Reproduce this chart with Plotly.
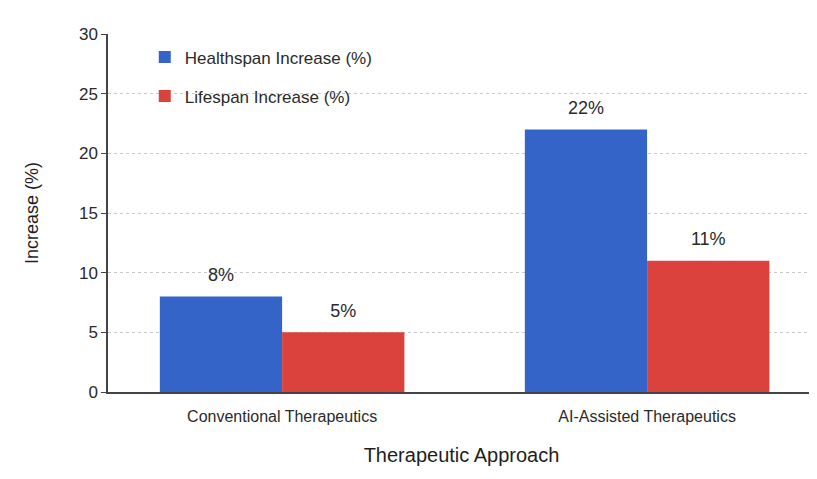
import plotly.graph_objects as go

categories = ["Conventional Therapeutics", "AI-Assisted Therapeutics"]
healthspan = [8, 22]
lifespan = [5, 11]
healthspan_labels = ["8%", "22%"]
lifespan_labels = ["5%", "11%"]

FONT = "Liberation Sans, Arial, Helvetica, sans-serif"
TXT = "#2a2a2a"
LABEL_TMPL = "<span style='font-size:18px'>%{text}</span><br> "

fig = go.Figure()
fig.add_trace(go.Bar(
    x=categories, y=healthspan, name="Healthspan Increase (%)",
    legendgroup="h",
    marker=dict(color="#3464c7", line=dict(width=0)),
    text=healthspan_labels, texttemplate=LABEL_TMPL,
    textposition="outside", cliponaxis=False,
    textfont=dict(family=FONT, size=8, color=TXT),
))
fig.add_trace(go.Bar(
    x=categories, y=lifespan, name="Lifespan Increase (%)",
    legendgroup="l",
    marker=dict(color="#db423e", line=dict(width=0)),
    text=lifespan_labels, texttemplate=LABEL_TMPL,
    textposition="outside", cliponaxis=False,
    textfont=dict(family=FONT, size=8, color=TXT),
))

fig.update_layout(
    width=809, height=471,
    margin=dict(l=100, r=2, t=26, b=87),
    paper_bgcolor="white", plot_bgcolor="white",
    barmode="group", bargap=0.33, bargroupgap=0,
    uniformtext=dict(mode=False),
    font=dict(family=FONT, size=15, color=TXT),
    showlegend=True,
    legend=dict(
        x=0.052, y=0.985, xanchor="left", yanchor="top",
        bgcolor="rgba(255,255,255,0)",
        font=dict(family=FONT, size=17, color=TXT),
        tracegroupgap=14,
    ),
    xaxis=dict(
        range=[-0.477, 1.46],
        showline=True, linecolor="#444444", linewidth=1.5,
        ticks="", showgrid=False, ticklabelstandoff=9,
        tickfont=dict(family=FONT, size=16, color=TXT),
        title=dict(text="Therapeutic Approach",
                   font=dict(family=FONT, size=20, color="#1e1e1e"),
                   standoff=24),
    ),
    yaxis=dict(
        range=[0, 30], tickvals=[0, 5, 10, 15, 20, 25, 30],
        showline=True, linecolor="#444444", linewidth=1.5,
        ticks="outside", ticklen=5, tickcolor="#444444",
        showgrid=True, gridcolor="#c8c8c8", griddash="dot", gridwidth=1,
        zeroline=False,
        tickfont=dict(family=FONT, size=17, color=TXT),
        title=dict(text="Increase (%)",
                   font=dict(family=FONT, size=18, color="#1e1e1e"),
                   standoff=36),
    ),
)

fig.write_html("out.html")
